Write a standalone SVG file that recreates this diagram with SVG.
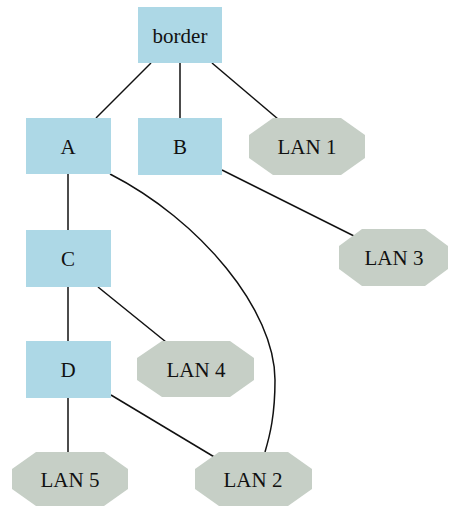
<svg xmlns="http://www.w3.org/2000/svg" width="449" height="506" viewBox="0 0 449 506">
<style>
.box{fill:#add8e6;stroke:none}
.oct{fill:#c6cfc6;stroke:none}
.lbl{font-family:"Liberation Serif","Times New Roman",serif;font-size:21px;fill:#111;text-anchor:middle}
.edge{fill:none;stroke:#111;stroke-width:1.5}
</style>
<rect width="449" height="506" fill="#fff"/>
<g id="edges">
<line class="edge" x1="151" y1="63" x2="96" y2="118"/>
<line class="edge" x1="180" y1="63" x2="180" y2="118"/>
<line class="edge" x1="212" y1="63" x2="278" y2="119"/>
<line class="edge" x1="222" y1="170" x2="356" y2="237"/>
<line class="edge" x1="68" y1="174" x2="68" y2="230"/>
<path class="edge" d="M110,174 C200,220 275,310 275,380 C275,415 270,435 265,452"/>
<line class="edge" x1="68" y1="287" x2="68" y2="341"/>
<line class="edge" x1="98" y1="287" x2="166" y2="342"/>
<line class="edge" x1="68" y1="398" x2="68" y2="452"/>
<line class="edge" x1="111" y1="395" x2="216" y2="458"/>
</g>
<g id="border"><rect class="box" x="138" y="7" width="84" height="56"/><text class="lbl" x="180" y="43">border</text></g>
<g id="A"><rect class="box" x="26" y="118" width="85" height="56"/><text class="lbl" x="68" y="154">A</text></g>
<g id="B"><rect class="box" x="138" y="118" width="84" height="57"/><text class="lbl" x="180" y="154">B</text></g>
<g id="C"><rect class="box" x="26" y="230" width="85" height="57"/><text class="lbl" x="68" y="266">C</text></g>
<g id="D"><rect class="box" x="26" y="341" width="85" height="57"/><text class="lbl" x="68" y="377">D</text></g>
<g id="LAN1"><polygon class="oct" points="273,118 341,118 365,135 365,158 341,175 273,175 249,158 249,135"/><text class="lbl" x="307" y="154">LAN 1</text></g>
<g id="LAN3"><polygon class="oct" points="362,229 425,229 448,246 448,269 425,286 362,286 339,269 339,246"/><text class="lbl" x="394" y="265">LAN 3</text></g>
<g id="LAN4"><polygon class="oct" points="162,341 230,341 254,358 254,380 230,397 162,397 137,380 137,358"/><text class="lbl" x="196" y="377">LAN 4</text></g>
<g id="LAN5"><polygon class="oct" points="36,452 104,452 128,469 128,489 104,506 36,506 12,489 12,469"/><text class="lbl" x="70" y="487">LAN 5</text></g>
<g id="LAN2"><polygon class="oct" points="219,452 288,452 312,469 312,489 288,506 219,506 195,489 195,469"/><text class="lbl" x="253" y="487">LAN 2</text></g>
</svg>
